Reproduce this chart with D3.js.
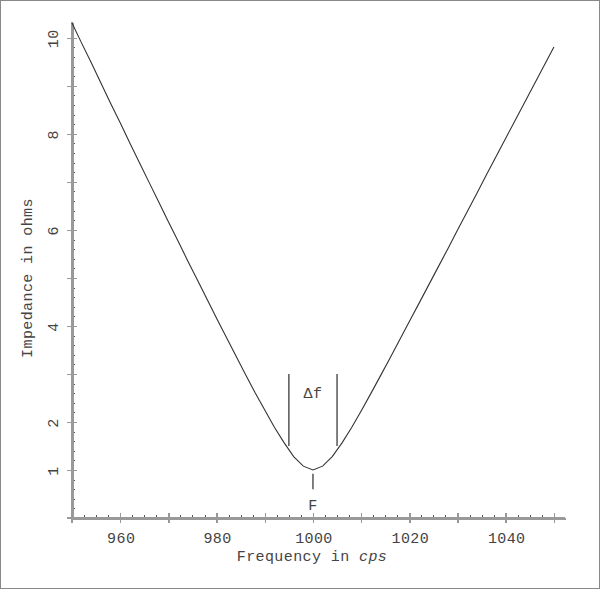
<!DOCTYPE html>
<html>
<head>
<meta charset="utf-8">
<style>
  body { margin: 0; background: #fff; }
  svg { display: block; }
  .lbl { font-family: "Liberation Mono", "DejaVu Sans Mono", monospace; font-size: 15px; letter-spacing: 0.4px; fill: #444; }
  .axis path, .axis line { stroke: #999; shape-rendering: crispEdges; }
  .minor line { stroke: #555; }
</style>
<script src="https://cdn.jsdelivr.net/npm/d3@7"></script>
</head>
<body>
<svg id="chart" width="600" height="590"></svg>
<script>
// frequency (cps) and impedance (ohms)
var freq = [950,952,954,956,958,960,962,964,966,968,970,972,974,976,978,980,982,984,986,988,990,
            992,994,996,998,1000,1002,1004,1006,1008,1010,1012,1014,1016,1018,1020,1022,1024,1026,
            1028,1030,1032,1034,1036,1038,1040,1042,1044,1046,1048,1050];
var impedance = [10.31,9.89,9.48,9.06,8.64,8.23,7.81,7.40,6.99,6.58,6.17,5.77,5.36,4.96,4.56,4.16,
                 3.77,3.38,2.99,2.61,2.25,1.89,1.57,1.28,1.08,1.00,1.08,1.28,1.56,1.88,2.23,2.59,
                 2.96,3.33,3.71,4.09,4.47,4.85,5.23,5.61,6.00,6.38,6.76,7.15,7.53,7.91,8.29,8.67,
                 9.05,9.43,9.81];
var xTickLabels = [960, 980, 1000, 1020, 1040];
var yTickLabels = [1, 2, 4, 6, 8, 10];
// bandwidth markers
var bandEdges = [995, 1005];
var bandRange = [1.5, 3.0];
var centerFreq = 1000;
var centerMark = [0.6, 0.92];

var svg = d3.select("#chart");

svg.append("rect")
  .attr("x", 0.5).attr("y", 0.5)
  .attr("width", 599).attr("height", 588)
  .attr("fill", "none").attr("stroke", "#888");

var x = d3.scaleLinear().domain([950, 1052.3]).range([72, 565]);
var y = d3.scaleLinear().domain([0, 10.33]).range([518, 22]);

// x axis: minor then major ticks
var xMinor = d3.range(950, 1052, 2.5).filter(function(v) { return v % 10 != 0; });
var xMajor = d3.range(950, 1051, 10);

svg.append("g").attr("class", "axis minor")
  .attr("transform", "translate(0,517)")
  .call(d3.axisBottom(x).tickValues(xMinor).tickSize(-2).tickSizeOuter(0).tickFormat(""))
  .select(".domain").remove();

var gx = svg.append("g").attr("class", "axis")
  .attr("transform", "translate(0,518)")
  .call(d3.axisBottom(x).tickValues(xMajor).tickSize(5).tickSizeOuter(0).tickFormat(""));
gx.select(".domain").attr("stroke-width", 2);
gx.selectAll(".tick line").attr("y1", -5).attr("stroke-width", 1.5);

// y axis
var yMinor = d3.range(0, 10.3, 0.2).filter(function(v) { return Math.abs(v - Math.round(v)) > 0.01; });
var yMajor = d3.range(0, 11, 1);

svg.append("g").attr("class", "axis minor")
  .attr("transform", "translate(73,0)")
  .call(d3.axisLeft(y).tickValues(yMinor).tickSize(-2).tickSizeOuter(0).tickFormat(""))
  .select(".domain").remove();

var gy = svg.append("g").attr("class", "axis")
  .attr("transform", "translate(72,0)")
  .call(d3.axisLeft(y).tickValues(yMajor).tickSize(5).tickSizeOuter(0).tickFormat(""));
gy.select(".domain").attr("stroke-width", 2);
gy.selectAll(".tick line").attr("x1", 5).attr("stroke-width", 1.5);

// extend axes a little past the corner
svg.append("line").attr("x1", 72).attr("x2", 72).attr("y1", 22).attr("y2", 523)
  .attr("stroke", "#999").attr("stroke-width", 2);
svg.append("line").attr("x1", 67).attr("x2", 565).attr("y1", 518).attr("y2", 518)
  .attr("stroke", "#999").attr("stroke-width", 2);

// tick labels
svg.selectAll(".xl").data(xTickLabels).enter().append("text")
  .attr("class", "lbl")
  .attr("x", function(d) { return x(d) + 1; })
  .attr("y", 543)
  .attr("text-anchor", "middle")
  .text(function(d) { return d; });

svg.selectAll(".yl").data(yTickLabels).enter().append("text")
  .attr("class", "lbl")
  .attr("transform", function(d) { return "translate(58," + (y(d) + 1) + ") rotate(-90)"; })
  .attr("text-anchor", "middle")
  .text(function(d) { return d; });

// axis titles
var xt = svg.append("text").attr("class", "lbl")
  .attr("x", 312).attr("y", 561).attr("text-anchor", "middle");
xt.append("tspan").text("Frequency in ");
xt.append("tspan").attr("font-style", "italic").text("cps");

svg.append("text").attr("class", "lbl")
  .attr("transform", "translate(32,278) rotate(-90)")
  .attr("text-anchor", "middle")
  .text("Impedance in ohms");

// the curve
var line = d3.line()
  .x(function(d, i) { return x(freq[i]); })
  .y(function(d) { return y(d); });

svg.append("path")
  .datum(impedance)
  .attr("d", line)
  .attr("fill", "none")
  .attr("stroke", "#333")
  .attr("stroke-width", 1.1);

// bandwidth lines and labels
svg.selectAll(".band").data(bandEdges).enter().append("line")
  .attr("x1", function(d) { return x(d); })
  .attr("x2", function(d) { return x(d); })
  .attr("y1", y(bandRange[0]))
  .attr("y2", y(bandRange[1]))
  .attr("stroke", "#555")
  .attr("stroke-width", 1.5);

svg.append("line")
  .attr("x1", x(centerFreq)).attr("x2", x(centerFreq))
  .attr("y1", y(centerMark[0])).attr("y2", y(centerMark[1]))
  .attr("stroke", "#555").attr("stroke-width", 1.5);

svg.append("text").attr("class", "lbl")
  .attr("x", x(centerFreq)).attr("y", y(2.5))
  .attr("text-anchor", "middle")
  .text("\u0394f");

svg.append("text").attr("class", "lbl")
  .attr("x", x(centerFreq)).attr("y", y(0.17))
  .attr("text-anchor", "middle")
  .text("F");
</script>
</body>
</html>
